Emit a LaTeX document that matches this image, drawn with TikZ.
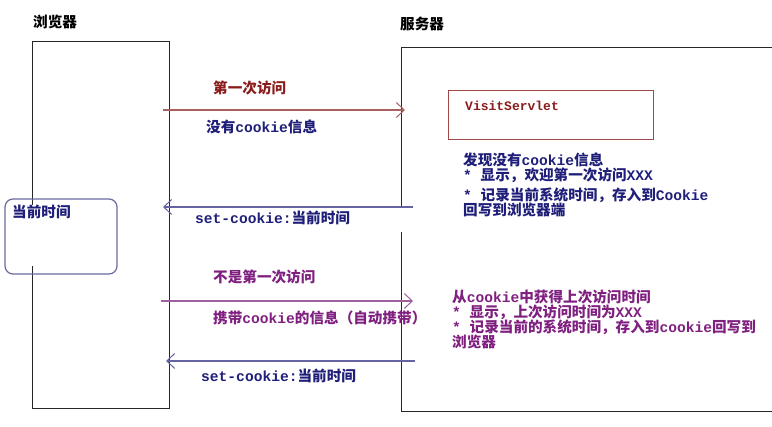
\documentclass[tikz,border=0pt]{standalone}
\usepackage{fontspec}
\setmainfont{Noto Sans CJK SC}
\newfontfamily\monof{Liberation Mono}
\newcommand\mlat[1]{{\monof #1}}
\usetikzlibrary{arrows.meta}
\definecolor{navy}{HTML}{1F1F7A}
\definecolor{dred}{HTML}{8B1C1C}
\definecolor{purp}{HTML}{7F1F7F}
\definecolor{ared}{HTML}{A86060}
\definecolor{ablue}{HTML}{6464A4}
\definecolor{apurp}{HTML}{A060A0}
\definecolor{sbord}{HTML}{A04848}
\definecolor{rbord}{HTML}{6A6A9F}
\begin{document}
\begin{tikzpicture}[x=1pt,y=-1pt,
  txt/.style={anchor=west,inner sep=0pt,font=\fontsize{14.6}{14.6}\selectfont\bfseries},
  boxline/.style={draw=black!85,line width=1pt},
  msg/.style={line width=1.2pt,-{Straight Barb[length=8pt,width=15pt,line width=1pt]}}]
\useasboundingbox (0,0) rectangle (772,427);
% titles
\node[txt] (tb) at (33,22) {浏览器};
\node[txt] (ts) at (400,24) {服务器};
% browser box
\coordinate (b1) at (32,205);
\coordinate (b2) at (32,266);
\draw[boxline] (b1) -- (32,42) -- (169,42) -- (169,409) -- (32,409) -- (b2);
% server box
\coordinate (s1) at (401,208);
\coordinate (s2) at (401,232);
\draw[boxline] (s1) -- (401,48) -- (772,48);
\draw[boxline] (772,412) -- (401,412) -- (s2);
% rounded box
\draw[draw=rbord,line width=1.2pt,rounded corners=8pt] (5,199) rectangle (117,274);
\node[txt,text=navy] (now) at (12,212) {当前时间};
% servlet box
\draw[draw=sbord,line width=1pt] (448,91) rectangle (653,140);
\node[anchor=west,inner sep=0pt,text=dred,font=\monof\fontsize{13}{13}\selectfont\bfseries] (vs) at (465,106) {VisitServlet};
% arrow 1
\coordinate (a1s) at (163,110);
\coordinate (a1e) at (405,110);
\draw[msg,ared] (a1s) -- (a1e);
\node[txt,text=dred] (l1) at (213,88) {第一次访问};
\node[txt,text=navy] (l2) at (206,127) {没有\mlat{cookie}信息};
% arrow 2
\coordinate (a2s) at (413,207);
\coordinate (a2e) at (163,207);
\draw[msg,ablue] (a2s) -- (a2e);
\node[txt,text=navy] (l3) at (195,218) {\mlat{set-cookie:}当前时间};
% arrow 3
\coordinate (a3s) at (161,301);
\coordinate (a3e) at (413,301);
\draw[msg,apurp] (a3s) -- (a3e);
\node[txt,text=purp] (l4) at (213,277) {不是第一次访问};
\node[txt,text=purp] (l5) at (213,318) {携带\mlat{cookie}的信息（自动携带）};
% arrow 4
\coordinate (a4s) at (415,361);
\coordinate (a4e) at (166,361);
\draw[msg,ablue] (a4s) -- (a4e);
\node[txt,text=navy] (l6) at (201,376) {\mlat{set-cookie:}当前时间};
% server notes 1
\node[txt,text=navy] (n1) at (463,160) {发现没有\mlat{cookie}信息};
\node[txt,text=navy] (n2) at (463,175) {\mlat{* }显示，欢迎第一次访问\mlat{XXX}};
\node[txt,text=navy] (n3) at (463,195) {\mlat{* }记录当前系统时间，存入到\mlat{Cookie}};
\node[txt,text=navy] (n4) at (463,210) {回写到浏览器端};
% server notes 2
\node[txt,text=purp] (p1) at (452,297) {从\mlat{cookie}中获得上次访问时间};
\node[txt,text=purp] (p2) at (452,312) {\mlat{* }显示，上次访问时间为\mlat{XXX}};
\node[txt,text=purp] (p3) at (452,327) {\mlat{* }记录当前的系统时间，存入到\mlat{cookie}回写到};
\node[txt,text=purp] (p4) at (452,342) {浏览器};
\end{tikzpicture}
\end{document}
